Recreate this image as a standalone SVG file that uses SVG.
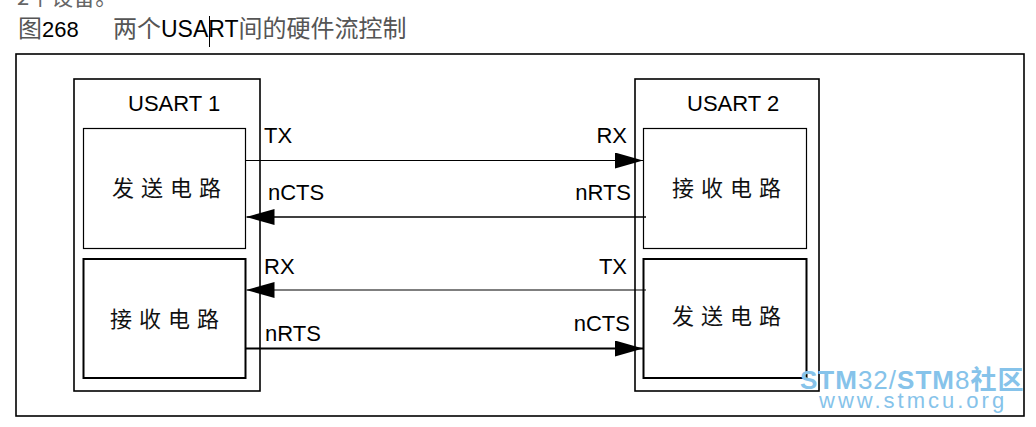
<svg xmlns="http://www.w3.org/2000/svg" width="1036" height="427" viewBox="0 0 1036 427">
<style>
.lbl{font-family:"Liberation Sans",Arial,sans-serif;font-size:22px;fill:#000}
.cn{font-family:"Noto Sans CJK SC","Noto Sans",sans-serif;font-size:22px;letter-spacing:7px;fill:#111}
.box{fill:none;stroke:#000}
.wire{stroke:#000;fill:none}
</style>
<defs>
<marker id="ah" markerUnits="userSpaceOnUse" markerWidth="28" markerHeight="16" refX="28" refY="8" orient="auto">
<path d="M0,0 L28,8 L0,16 z" fill="#000"/>
</marker>
</defs>
<rect width="1036" height="427" fill="#fff"/>
<text x="17" y="5" font-family="Noto Sans CJK SC,sans-serif" font-size="22" fill="#666">2个设备。</text>
<g id="title">
<text x="18" y="37" font-family="'Liberation Sans','Noto Sans CJK SC',sans-serif" font-size="22"><tspan font-family="Noto Sans CJK SC,sans-serif" font-size="24" fill="#555">图</tspan><tspan fill="#000">268</tspan><tspan x="113" font-family="Noto Sans CJK SC,sans-serif" font-size="24" fill="#555">两个</tspan><tspan fill="#000" font-size="23">USART</tspan><tspan font-family="Noto Sans CJK SC,sans-serif" font-size="24" fill="#555">间的硬件流控制</tspan></text>
<line x1="209.5" y1="16" x2="209.5" y2="47" stroke="#000" stroke-width="1"/>
</g>
<rect id="frame" x="16" y="54" width="1008" height="362" class="box" stroke-width="1.6"/>
<g id="usart1">
<rect x="74" y="79" width="186" height="312" class="box" stroke-width="1.6"/>
<text x="128" y="111" class="lbl">USART 1</text>
<g id="tx1">
<rect x="83.5" y="128.5" width="162" height="120" class="box" stroke-width="1.2"/>
<text x="112" y="196" class="cn">发送电路</text>
</g>
<g id="rx1">
<rect x="83.5" y="259" width="162" height="119" class="box" stroke-width="2"/>
<text x="110" y="327" class="cn">接收电路</text>
</g>
</g>
<g id="usart2">
<rect x="635" y="79" width="184" height="312" class="box" stroke-width="1.6"/>
<text x="687" y="111" class="lbl">USART 2</text>
<g id="rx2">
<rect x="643.5" y="128.5" width="163" height="120" class="box" stroke-width="1.2"/>
<text x="672" y="196" class="cn">接收电路</text>
</g>
<g id="tx2">
<rect x="643.5" y="259" width="163" height="119" class="box" stroke-width="2"/>
<text x="672" y="324" class="cn">发送电路</text>
</g>
</g>
<g id="connectors">
<line x1="245" y1="160.5" x2="643" y2="160.5" class="wire" stroke-width="1.2" marker-end="url(#ah)"/>
<line x1="646" y1="217" x2="246.5" y2="217" class="wire" stroke-width="1.5" marker-end="url(#ah)"/>
<line x1="646" y1="290" x2="246.5" y2="290" class="wire" stroke-width="1.2" marker-end="url(#ah)"/>
<line x1="245" y1="348.5" x2="643" y2="348.5" class="wire" stroke-width="2" marker-end="url(#ah)"/>
<text x="264" y="143" class="lbl">TX</text>
<text x="268" y="200" class="lbl">nCTS</text>
<text x="264" y="274" class="lbl">RX</text>
<text x="265" y="341" class="lbl">nRTS</text>
<text x="627" y="143" class="lbl" text-anchor="end">RX</text>
<text x="631" y="200" class="lbl" text-anchor="end">nRTS</text>
<text x="627" y="274" class="lbl" text-anchor="end">TX</text>
<text x="630" y="331" class="lbl" text-anchor="end">nCTS</text>
</g>
<g id="watermark" fill="#86c3ea">
<text x="800" y="389" font-family="'Liberation Sans','Noto Sans CJK SC',sans-serif" font-size="26" letter-spacing="1"><tspan font-weight="bold">STM</tspan>32/<tspan font-weight="bold">STM</tspan>8<tspan font-family="Noto Sans CJK SC,sans-serif" font-weight="bold">社区</tspan></text>
<text x="819" y="408" font-family="'Liberation Sans',sans-serif" font-size="22" letter-spacing="3">www.stmcu.org</text>
</g>
</svg>
